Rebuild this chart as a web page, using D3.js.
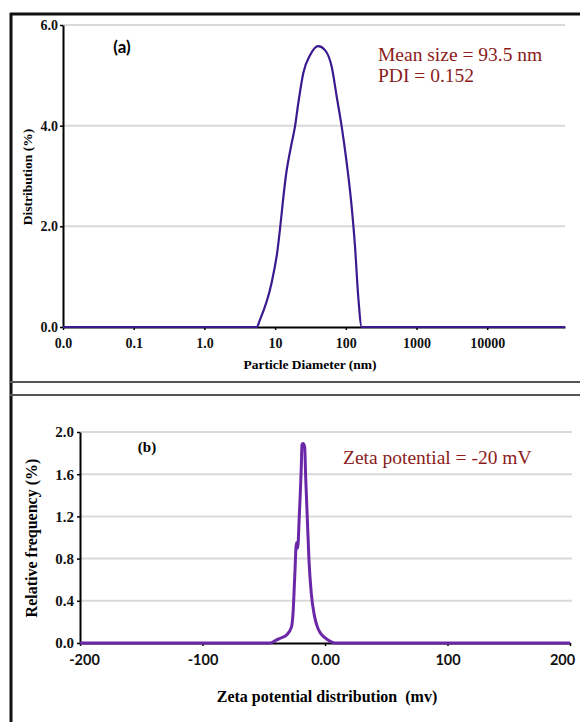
<!DOCTYPE html>
<html>
<head>
<meta charset="utf-8">
<script src="https://cdn.jsdelivr.net/npm/d3@7"></script>
<style>
  body { margin: 0; background: #fff; }
  svg { display: block; }
</style>
</head>
<body>
<div id="chart"></div>
<script>
// panel (a): size distribution
const sizeNm   = [0.01, 5.5, 6.1, 8.9, 10.5, 14.6, 17.2, 19.1, 21.3, 25.1, 31.2, 40.8, 50.8, 63.2, 74.3, 87.5, 103, 121, 135, 150, 168, 126000];
const distPct  = [0, 0, 0.14, 0.87, 1.40, 3.12, 3.66, 3.98, 4.45, 5.05, 5.40, 5.58, 5.50, 5.17, 4.58, 3.98, 3.26, 2.39, 1.60, 0.60, 0, 0];
const sizeTicks = [0.01, 0.1, 1, 10, 100, 1000, 10000];
const sizeTickLabels = ["0.0", "0.1", "1.0", "10", "100", "1000", "10000"];
const distTicks = [0, 2, 4, 6];

// panel (b): zeta potential
const zetaMv   = [-200, -45, -39.5, -35.5, -31.4, -27.4, -26.1, -24.7, -23.3, -22.3, -21, -19.3, -18.8, -18.0, -16.6, -15.8, -14.4, -13.1, -11.2, -8.5, -5.8, -4.5, -2.5, 0.0, 1.0, 3.6, 7.7, 200];
const zetaFreq = [0, 0, 0.03, 0.05, 0.076, 0.15, 0.28, 0.63, 0.95, 0.90, 1.20, 1.69, 1.88, 1.89, 1.86, 1.58, 1.17, 0.79, 0.47, 0.25, 0.14, 0.11, 0.076, 0.05, 0.04, 0.02, 0, 0];
const zetaTicks = [-200, -100, 0, 100, 200];
const zetaTickLabels = ["-200", "-100", "0.00", "100", "200"];
const freqTicks = [0, 0.4, 0.8, 1.2, 1.6, 2.0];

const width = 580, height = 722;
const serif = "'Liberation Serif', 'Times New Roman', serif";
const sans = "Lato, 'Open Sans', sans-serif";
const noteColor = "#8b1c1c";
const gridColor = "#d9d9d9";

const svg = d3.select('#chart').append('svg')
    .attr('width', width)
    .attr('height', height);

// frame lines
svg.append('line').attr('x1', 10).attr('x2', width).attr('y1', 14).attr('y2', 14)
    .attr('stroke', '#111').attr('stroke-width', 3);
svg.append('line').attr('x1', 11).attr('x2', 11).attr('y1', 13).attr('y2', height)
    .attr('stroke', '#111').attr('stroke-width', 3);
svg.append('line').attr('x1', 10).attr('x2', width).attr('y1', 382).attr('y2', 382)
    .attr('stroke', '#555').attr('stroke-width', 2);
svg.append('line').attr('x1', 10).attr('x2', width).attr('y1', 395).attr('y2', 395)
    .attr('stroke', '#555').attr('stroke-width', 2);

function styleAxis(g, font, size) {
    g.select('.domain').attr('stroke', '#000').attr('stroke-width', 2);
    g.selectAll('.tick line').attr('stroke', '#000').attr('stroke-width', 1.5);
    g.selectAll('.tick text')
        .style('font-family', font)
        .style('font-size', size + 'px')
        .style('font-weight', 'bold')
        .attr('fill', '#111');
}

// ---------- panel (a) ----------
const xA = d3.scaleLog().domain([0.01, 126000]).range([63, 565]);
const yA = d3.scaleLinear().domain([0, 6]).range([327, 25]);

svg.append('g').selectAll('line')
    .data(distTicks.filter(d => d > 0))
    .enter().append('line')
    .attr('x1', xA.range()[0]).attr('x2', xA.range()[1])
    .attr('y1', d => yA(d)).attr('y2', d => yA(d))
    .attr('stroke', gridColor).attr('stroke-width', 2);

const lineA = d3.line()
    .x((d, i) => xA(sizeNm[i]))
    .y(d => yA(d))
    .curve(d3.curveMonotoneX);

const axAx = svg.append('g')
    .attr('transform', 'translate(0,' + yA(0) + ')')
    .call(d3.axisBottom(xA).tickValues(sizeTicks)
        .tickFormat((d, i) => sizeTickLabels[i]).tickSize(3).tickSizeOuter(0).tickPadding(8));
styleAxis(axAx, serif, 14);

const ayAx = svg.append('g')
    .attr('transform', 'translate(' + xA.range()[0] + ',0)')
    .call(d3.axisLeft(yA).tickValues(distTicks).tickFormat(d3.format('.1f')).tickSize(3).tickSizeOuter(0).tickPadding(2));
styleAxis(ayAx, serif, 14);

svg.append('path')
    .datum(distPct)
    .attr('d', lineA)
    .attr('fill', 'none')
    .attr('stroke', '#3a1a8e')
    .attr('stroke-width', 2.2);

svg.append('text')
    .attr('x', 310).attr('y', 369)
    .attr('text-anchor', 'middle')
    .style('font-family', serif).style('font-size', '13.5px').style('font-weight', 'bold')
    .text('Particle Diameter (nm)');

svg.append('text')
    .attr('transform', 'translate(32,177) rotate(-90)')
    .attr('text-anchor', 'middle')
    .style('font-family', serif).style('font-size', '13.5px').style('font-weight', 'bold')
    .text('Distribution (%)');

svg.append('text')
    .attr('x', 122).attr('y', 53)
    .attr('text-anchor', 'middle')
    .style('font-family', sans).style('font-size', '17px').style('font-weight', 'bold')
    .text('(a)');

svg.append('text')
    .attr('x', 378).attr('y', 61)
    .style('font-family', serif).style('font-size', '19.5px').attr('fill', noteColor)
    .text('Mean size = 93.5 nm');
svg.append('text')
    .attr('x', 378).attr('y', 82)
    .style('font-family', serif).style('font-size', '19.5px').attr('fill', noteColor)
    .text('PDI = 0.152');

// ---------- panel (b) ----------
const xB = d3.scaleLinear().domain([-200, 200]).range([80, 570]);
const yB = d3.scaleLinear().domain([0, 2]).range([643, 432]);

svg.append('g').selectAll('line')
    .data(freqTicks.filter(d => d > 0))
    .enter().append('line')
    .attr('x1', xB.range()[0]).attr('x2', 572)
    .attr('y1', d => yB(d)).attr('y2', d => yB(d))
    .attr('stroke', gridColor).attr('stroke-width', 2);

const bxAx = svg.append('g')
    .attr('transform', 'translate(0,' + yB(0) + ')')
    .call(d3.axisBottom(xB).tickValues(zetaTicks)
        .tickFormat((d, i) => zetaTickLabels[i]).tickSize(3).tickSizeOuter(0).tickPadding(9));
styleAxis(bxAx, sans, 14.5);
bxAx.selectAll('.tick text').attr('dx', d => d === 200 ? -8 : (d === -200 ? 4 : 0));

const byAx = svg.append('g')
    .attr('transform', 'translate(' + xB.range()[0] + ',0)')
    .call(d3.axisLeft(yB).tickValues(freqTicks).tickFormat(d3.format('.1f')).tickSize(3).tickSizeOuter(0).tickPadding(3));
styleAxis(byAx, serif, 15);

const lineB = d3.line()
    .x((d, i) => xB(zetaMv[i]))
    .y(d => yB(d))
    .curve(d3.curveMonotoneX);

svg.append('path')
    .datum(zetaFreq)
    .attr('d', lineB)
    .attr('fill', 'none')
    .attr('stroke', '#6a28a8')
    .attr('stroke-width', 3);

svg.append('text')
    .attr('x', 327).attr('y', 702)
    .attr('text-anchor', 'middle')
    .style('font-family', serif).style('font-size', '16px').style('font-weight', 'bold')
    .style('white-space', 'pre')
    .text('Zeta potential distribution  (mv)');

svg.append('text')
    .attr('transform', 'translate(37,538) rotate(-90)')
    .attr('text-anchor', 'middle')
    .style('font-family', serif).style('font-size', '16px').style('font-weight', 'bold')
    .text('Relative frequency (%)');

svg.append('text')
    .attr('x', 147).attr('y', 452)
    .attr('text-anchor', 'middle')
    .style('font-family', serif).style('font-size', '15px').style('font-weight', 'bold')
    .text('(b)');

svg.append('text')
    .attr('x', 343).attr('y', 464)
    .style('font-family', serif).style('font-size', '19.5px').attr('fill', noteColor)
    .text('Zeta potential = -20 mV');
</script>
</body>
</html>
